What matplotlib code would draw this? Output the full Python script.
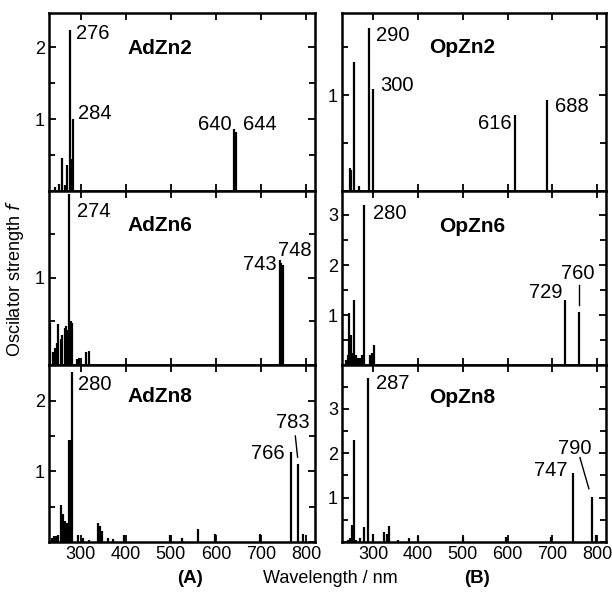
import matplotlib.pyplot as plt
from matplotlib.ticker import MultipleLocator

plt.rcParams['font.family'] = ['Liberation Sans', 'DejaVu Sans']

# Raies calculees (longueur d'onde nm, force d'oscillateur)
adzn2_wl = [243, 252, 259, 266, 270, 276, 281, 284, 640, 644]
adzn2_f = [0.05, 0.1, 0.46, 0.08, 0.36, 2.24, 0.45, 1.0, 0.86, 0.82]

opzn2_wl = [247, 251, 257, 267, 290, 300, 616, 688]
opzn2_f = [0.24, 0.22, 1.35, 0.05, 1.7, 1.07, 0.79, 0.95]

adzn6_wl = [233, 239, 243, 248, 250, 256, 260, 265, 268, 271, 274, 278, 280,
            292, 297, 313, 318, 743, 745, 748]
adzn6_f = [0.48, 0.15, 0.2, 0.25, 0.47, 0.3, 0.35, 0.42, 0.45, 0.4, 1.95, 0.5,
           0.48, 0.07, 0.08, 0.15, 0.16, 1.2, 1.17, 1.15]

opzn6_wl = [238, 243, 246, 250, 253, 257, 261, 265, 270, 275, 280, 292, 297,
            302, 729, 760]
opzn6_f = [0.1, 0.2, 1.04, 0.6, 0.25, 1.3, 0.2, 0.15, 0.15, 0.2, 3.2, 0.2,
           0.25, 0.4, 1.3, 1.06]

adzn8_wl = [236, 241, 245, 251, 256, 261, 265, 269, 272, 275, 277, 279, 280,
            294, 305, 318, 338, 343, 347, 361, 372, 396, 498, 524, 560, 597,
            697, 766, 783, 794]
adzn8_f = [0.05, 0.08, 0.08, 0.1, 0.52, 0.4, 0.3, 0.27, 0.25, 1.45, 1.45,
           1.45, 2.41, 0.1, 0.05, 0.03, 0.27, 0.22, 0.15, 0.06, 0.04, 0.1, 0.1,
           0.06, 0.18, 0.12, 0.12, 1.28, 1.1, 0.12]

opzn8_wl = [243, 248, 253, 257, 262, 270, 280, 287, 300, 324, 331, 335, 355,
            380, 400, 500, 597, 697, 747, 790, 797]
opzn8_f = [0.05, 0.1, 0.38, 2.3, 0.05, 0.1, 0.34, 3.7, 0.18, 0.22, 0.18, 0.36,
           0.05, 0.1, 0.13, 0.12, 0.12, 0.12, 1.55, 1.01, 0.15]

fig = plt.figure(figsize=(6.12, 5.93), dpi=100)

left_x = [0.080, 0.559]
widths = [0.435, 0.431]
rows = [(0.678, 0.300), (0.384, 0.294), (0.086, 0.298)]


def panel(col, row, wl, f, ymax, yticks, name, name_xy, labels, leaders=()):
    b, h = rows[row]
    ax = fig.add_axes([left_x[col], b, widths[col], h])
    ax.vlines(wl, 0, f, color='black', linewidth=1.6)
    ax.set_xlim(230, 820)
    ax.set_ylim(0, ymax)
    ax.xaxis.set_major_locator(MultipleLocator(100))
    ax.set_yticks(yticks)
    ax.yaxis.set_minor_locator(MultipleLocator(0.5))
    ax.tick_params(which='both', direction='in', top=True, right=True,
                   width=1.3, labelsize=13, pad=3)
    ax.tick_params(which='major', length=5)
    ax.tick_params(which='minor', length=4)
    if row < 2:
        ax.set_xticklabels([])
    for s in ax.spines.values():
        s.set_linewidth(1.8)
    ax.text(name_xy[0], name_xy[1], name, fontsize=15, fontweight='bold',
            va='center', ha='left')
    for txt, x, y, ha in labels:
        ax.text(x, y, txt, fontsize=14.5, va='center', ha=ha)
    for (x0, y0, x1, y1) in leaders:
        ax.plot([x0, x1], [y0, y1], color='black', linewidth=1)
    return ax


panel(0, 0, adzn2_wl, adzn2_f, 2.48, [1, 2], 'AdZn2', (403, 1.99),
      [('276', 290, 2.19, 'left'), ('284', 294, 1.08, 'left'),
       ('640', 635, 0.93, 'right'), ('644', 659, 0.93, 'left')])
panel(1, 0, opzn2_wl, opzn2_f, 1.86, [1], 'OpZn2', (424, 1.5),
      [('290', 306, 1.63, 'left'), ('300', 315, 1.1, 'left'),
       ('616', 609, 0.7, 'right'), ('688', 706, 0.88, 'left')])
panel(0, 1, adzn6_wl, adzn6_f, 1.99, [1], 'AdZn6', (403, 1.59),
      [('274', 292, 1.75, 'left'), ('743', 734, 1.15, 'right'),
       ('748', 737, 1.31, 'left')])
panel(1, 1, opzn6_wl, opzn6_f, 3.48, [1, 2, 3], 'OpZn6', (446, 2.77),
      [('280', 300, 3.03, 'left'), ('729', 724, 1.46, 'right'),
       ('760', 720, 1.83, 'left')],
      [(760, 1.6, 760, 1.2)])
panel(0, 2, adzn8_wl, adzn8_f, 2.5, [1, 2], 'AdZn8', (403, 2.06),
      [('280', 294, 2.23, 'left'), ('766', 752, 1.25, 'right'),
       ('783', 734, 1.69, 'left')],
      [(776, 1.5, 781, 1.2)])
panel(1, 2, opzn8_wl, opzn8_f, 3.98, [1, 2, 3], 'OpZn8', (424, 3.26),
      [('287', 306, 3.57, 'left'), ('747', 735, 1.6, 'right'),
       ('790', 713, 2.11, 'left')],
      [(762, 1.9, 782, 1.2)])

fig.text(0.025, 0.53, 'Oscilator strength $\\it{f}$', rotation=90,
         fontsize=13, va='center', ha='center')
fig.text(0.54, 0.025, 'Wavelength / nm', fontsize=13, ha='center',
         va='center')
fig.text(0.31, 0.025, '(A)', fontsize=13.5, fontweight='bold', ha='center',
         va='center')
fig.text(0.78, 0.025, '(B)', fontsize=13.5, fontweight='bold', ha='center',
         va='center')

plt.savefig('out.png', dpi=100)
